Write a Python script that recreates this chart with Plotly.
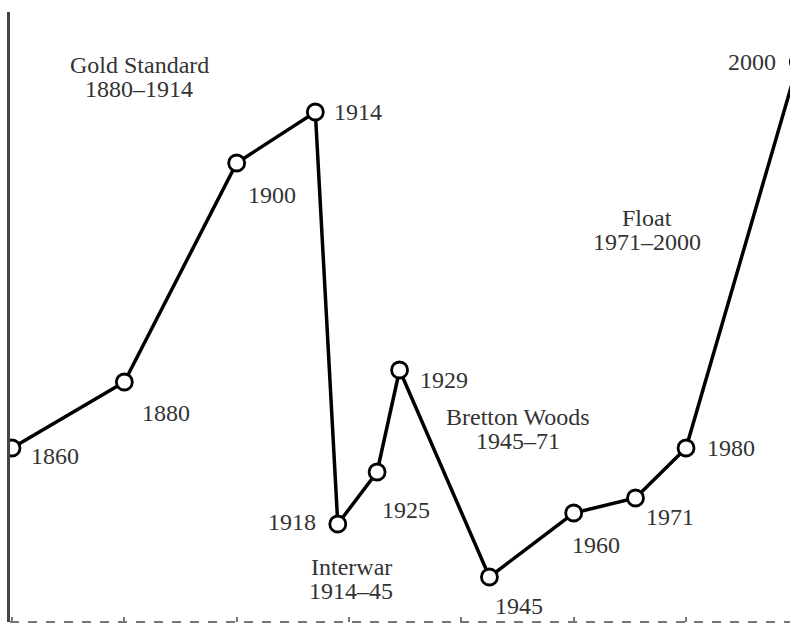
import plotly.graph_objects as go

# Data: capital mobility index (arbitrary units)
years = [1860, 1880, 1900, 1914, 1918, 1925, 1929, 1945, 1960, 1971, 1980, 2000]
mobility = [177, 243, 462, 513, 101, 153, 255, 48, 112, 127, 177, 563]
point_labels = ["1860", "1880", "1900", "1914", "1918", "1925", "1929",
                "1945", "1960", "1971", "1980", "2000"]
# label offsets in pixels (dx, dy down)
label_offsets = [(43, 8), (42, 31), (35, 32), (43, 0), (-46, -2), (29, 38),
                 (44, 10), (30, 29), (22, 32), (35, 19), (45, 0), (-46, 0)]

era_names = ["Gold Standard", "Interwar", "Bretton Woods", "Float"]
era_spans = ["1880\u20131914", "1914\u201345", "1945\u201371", "1971\u20132000"]
era_pos = [(139, 65, 89), (351, 567, 591), (518, 417, 441), (647, 218, 242)]

W, H = 790, 625
L, R, T, B = 10, 0, 12, 3
PXPY = 5.617
x0 = 1860 - 2 / PXPY
x1 = x0 + (W - L - R) / PXPY
y0, y1 = 3, 613

FONT = dict(family="Liberation Serif, Times New Roman, serif", size=24, color="#333333")

fig = go.Figure()
fig.add_trace(go.Scatter(
    x=years, y=mobility, mode="lines+markers",
    line=dict(color="black", width=3.5),
    marker=dict(size=16, color="white", line=dict(color="black", width=2.8)),
    cliponaxis=True, hoverinfo="skip", showlegend=False,
))

annotations = []
for yr, v, lab, (dx, dy) in zip(years, mobility, point_labels, label_offsets):
    xp = (yr - x0) / (x1 - x0)
    yp = (v - y0) / (y1 - y0)
    annotations.append(dict(x=xp, y=yp, xref="paper", yref="paper", text=lab, showarrow=False,
                            xshift=dx, yshift=-dy, font=FONT, xanchor="center", yanchor="middle"))

def px_to_paper(px, py):
    return (px - L) / (W - L - R), (H - B - py) / (H - T - B)

for name, span, (cx, ya, yb) in zip(era_names, era_spans, era_pos):
    for txt, py in ((name, ya), (span, yb)):
        xp, yp = px_to_paper(cx, py)
        annotations.append(dict(x=xp, y=yp, xref="paper", yref="paper", text=txt,
                                showarrow=False, font=FONT, xanchor="center", yanchor="middle"))

fig.update_layout(
    width=W, height=H,
    margin=dict(l=L, r=R, t=T, b=B, pad=0),
    paper_bgcolor="white", plot_bgcolor="white",
    annotations=annotations,
    shapes=[dict(type="line", xref="paper", yref="paper", x0=0, x1=1, y0=0, y1=0,
                 line=dict(color="#777", width=2, dash="dash"))],
    xaxis=dict(range=[x0, x1], showgrid=False, zeroline=False, showticklabels=False,
               showline=False, ticks="inside", tick0=1860, dtick=20, ticklen=5,
               tickcolor="#777", tickwidth=1.5),
    yaxis=dict(range=[y0, y1], showgrid=False, zeroline=False, showticklabels=False,
               showline=True, linecolor="#444", linewidth=3, ticks=""),
)

fig.write_html("out.html", config={"displayModeBar": False},
               post_script="document.body.style.margin='0';document.body.style.overflow='hidden';")
